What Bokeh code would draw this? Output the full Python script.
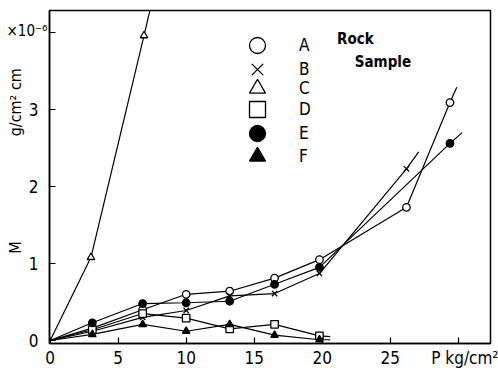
from bokeh.plotting import figure
from bokeh.models import Range1d, FixedTicker, Label, Legend, LegendItem, Title
from bokeh.embed import file_html
from bokeh.resources import INLINE

FONT = "Liberation Sans Narrow, DejaVu Sans Condensed, Liberation Sans, sans-serif"
NB = "\u00a0"

# pressure P (kg/cm^2) and M (x10^-6 g/cm^2 cm) for each rock sample
p_A = [0, 3.1, 6.8, 10.0, 13.2, 16.5, 19.8, 26.2, 29.4]
m_A = [0, 0.16, 0.40, 0.60, 0.64, 0.81, 1.05, 1.73, 3.09]
p_B = [0, 3.1, 6.8, 10.0, 13.2, 16.5, 19.8, 26.2]
m_B = [0, 0.12, 0.30, 0.39, 0.58, 0.61, 0.87, 2.23]
p_C = [0, 3.0, 6.9]
m_C = [0, 1.08, 3.96]
p_D = [0, 3.1, 6.8, 10.0, 13.2, 16.5, 19.8]
m_D = [0, 0.14, 0.35, 0.29, 0.15, 0.21, 0.06]
p_E = [0, 3.1, 6.8, 10.0, 13.2, 16.5, 19.8, 29.4]
m_E = [0, 0.23, 0.48, 0.49, 0.51, 0.73, 0.95, 2.56]
p_F = [0, 3.1, 6.8, 10.0, 13.2, 16.5, 19.8]
m_F = [0, 0.08, 0.21, 0.12, 0.21, 0.07, 0.01]

# end of each drawn curve beyond its last measured point
end_p = {"A": 29.9, "B": 27.1, "C": 7.55, "D": 20.6, "E": 30.3, "F": 20.6}
end_m = {"A": 3.29, "B": 2.45, "C": 4.45, "D": 0.05, "E": 2.70, "F": 0.01}

samples = ["A", "B", "C", "D", "E", "F"]
xs = {"A": p_A, "B": p_B, "C": p_C, "D": p_D, "E": p_E, "F": p_F}
ys = {"A": m_A, "B": m_B, "C": m_C, "D": m_D, "E": m_E, "F": m_F}
markers = {"A": "circle", "B": "x", "C": "triangle", "D": "square", "E": "circle", "F": "triangle"}
fills = {"A": "white", "B": "white", "C": "white", "D": "white", "E": "black", "F": "black"}

x_ticks = [0, 5, 10, 15, 20, 25, 30]
y_ticks = [0, 1, 2, 3, 4]
x_unit = NB * 3 + "P" + NB + "kg/cm²"
y_mult = "×10⁻⁶"
y_title = NB * 7 + "M" + NB * 23 + "g/cm²" + NB + "cm"

p = figure(width=498, height=371, output_backend="svg", toolbar_location=None,
           x_range=Range1d(-0.05, 32.38), y_range=Range1d(-0.039, 4.286),
           min_border_left=49, min_border_right=8, min_border_top=10, min_border_bottom=28)
p.background_fill_color = "white"
p.border_fill_color = "white"
p.xgrid.visible = False
p.ygrid.visible = False
p.outline_line_color = "black"
p.outline_line_width = 1.5
p.outline_line_alpha = 1

for ax in (p.xaxis[0], p.yaxis[0]):
    ax.axis_line_width = 1.5
    ax.major_tick_in = 6
    ax.major_tick_out = 0
    ax.major_tick_line_width = 1.2
    ax.minor_tick_line_color = None
    ax.major_label_text_font = FONT
    ax.major_label_text_font_size = "17px"
    ax.major_label_text_color = "black"

p.xaxis.ticker = FixedTicker(ticks=x_ticks)
p.xaxis.major_label_overrides = {30: x_unit}
p.xaxis.major_label_standoff = 4
p.yaxis.ticker = FixedTicker(ticks=y_ticks)
p.yaxis.major_label_overrides = {4: ""}
p.yaxis.major_label_standoff = 11
p.yaxis.axis_label = y_title
p.yaxis.axis_label_text_font = FONT
p.yaxis.axis_label_text_font_size = "16px"
p.yaxis.axis_label_text_font_style = "normal"
p.yaxis.axis_label_text_color = "black"
p.yaxis.axis_label_standoff = 1

mult = Title(text=y_mult, align="left", offset=-43, standoff=-58, vertical_align="bottom",
             text_font=FONT, text_font_size="15px", text_font_style="normal", text_color="black")
p.add_layout(mult, "above")

renderers = {}
for s in samples:
    p.line(xs[s] + [end_p[s]], ys[s] + [end_m[s]], line_color="black", line_width=1.2)
for s in samples:
    renderers[s] = p.scatter(xs[s][1:], ys[s][1:], marker=markers[s], size=7.5,
                             fill_color=fills[s], line_color="black", line_width=1.3)

# legend: one block per row so the symbols can be drawn large
row_centers = [45, 69, 88, 109, 133, 156]  # page y of each legend row
for s, yc in zip(samples, row_centers):
    leg = Legend(items=[LegendItem(label=s, renderers=[renderers[s]])],
                 location=(188, 343 - (yc + 20)), glyph_width=40, glyph_height=40,
                 padding=0, margin=0, spacing=0, label_standoff=22,
                 border_line_alpha=0, background_fill_alpha=0,
                 label_text_font=FONT, label_text_font_size="17px",
                 label_text_color="black", label_height=20)
    p.add_layout(leg)

for text, x, y in (("Rock", 21.1, 3.92), ("Sample", 22.4, 3.62)):
    p.add_layout(Label(x=x, y=y, text=text, text_align="left", text_baseline="middle",
                       text_font=FONT, text_font_size="15px", text_font_style="bold",
                       text_color="black"))

open("out.html", "w").write(file_html(p, INLINE))
